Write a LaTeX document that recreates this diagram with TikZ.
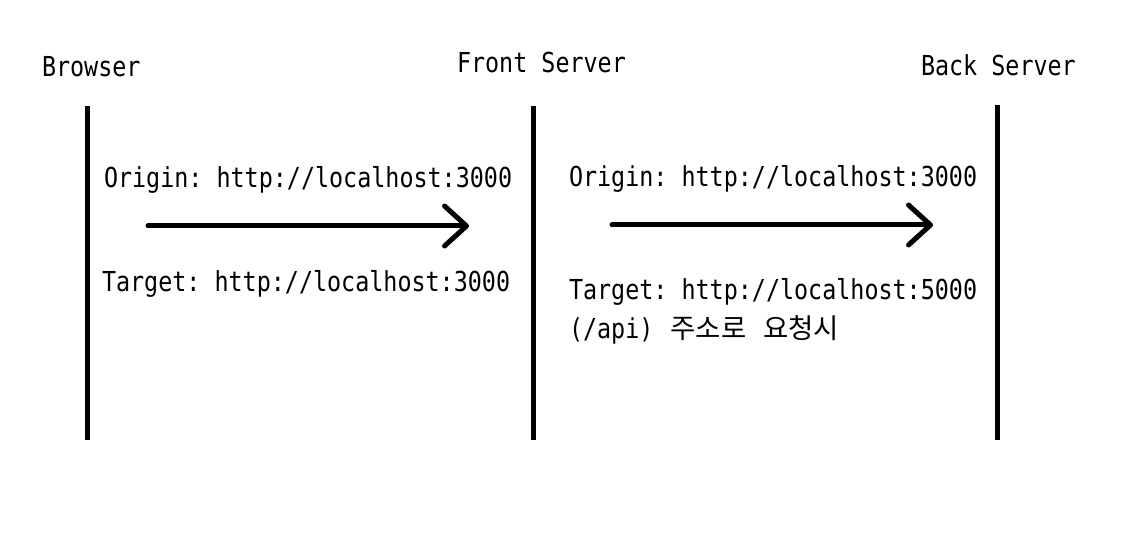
\documentclass[tikz,border=0pt]{standalone}
\usepackage{fontspec}
\setmonofont[FakeStretch=0.85]{DejaVu Sans Mono}
\newfontfamily\kr{Noto Sans CJK KR}
\usetikzlibrary{arrows.meta}
\newcommand\krtext[1]{{\kr\fontsize{27.5}{32}\selectfont #1}}
\begin{document}
\begin{tikzpicture}[x=1pt,y=-1pt,
  lbl/.style={anchor=base west,inner sep=0pt,outer sep=0pt,font=\ttfamily\fontsize{27.5}{32}\selectfont},
  life/.style={line width=5pt},
  msg/.style={line width=5pt,line cap=round,-{Straight Barb[length=22pt,width=40pt,line cap=round,line join=round]}}]
\useasboundingbox (0,0) rectangle (1148,534);
% headers
\node[lbl] (browser) at (42,77) {Browser};
\node[lbl] (front) at (457,73) {Front Server};
\node[lbl] (back) at (921,76) {Back Server};
% lifelines
\coordinate (b1) at (87,106); \coordinate (b2) at (87,440);
\coordinate (f1) at (533,106); \coordinate (f2) at (533,440);
\coordinate (k1) at (997,105); \coordinate (k2) at (997,440);
\draw[life] (b1) -- (b2);
\draw[life] (f1) -- (f2);
\draw[life] (k1) -- (k2);
% arrows
\coordinate (a1s) at (148,226); \coordinate (a1e) at (469,226);
\coordinate (a2s) at (612,225); \coordinate (a2e) at (933,225);
\draw[msg] (a1s) -- (a1e);
\draw[msg] (a2s) -- (a2e);
% labels
\node[lbl] (o1) at (104,188) {Origin: http://localhost:3000};
\node[lbl] (t1) at (102,292) {Target: http://localhost:3000};
\node[lbl] (o2) at (569,187) {Origin: http://localhost:3000};
\node[lbl] (t2) at (569,300) {Target: http://localhost:5000};
\node[lbl] (t3) at (569,338) {(/api)\hspace{17pt}\krtext{주소로}\hspace{17pt}\krtext{요청시}};
\end{tikzpicture}
\end{document}
